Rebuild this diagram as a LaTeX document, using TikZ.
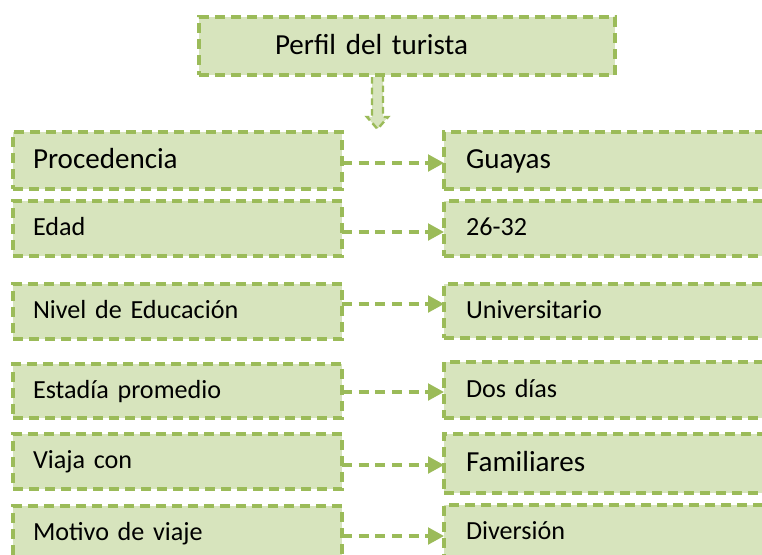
\documentclass[tikz,border=0pt]{standalone}
\usepackage{fontspec}
\setmainfont{Carlito}
\usetikzlibrary{arrows.meta,positioning,calc}
\definecolor{perfilfill}{RGB}{215,228,189}
\definecolor{perfilline}{RGB}{155,187,89}

\begin{document}
\begin{tikzpicture}[x=0.75pt, y=-0.75pt,
    cajon/.style={draw=perfilline, fill=perfilfill, line width=2.5pt,
        dash pattern=on 7.5pt off 4.5pt, anchor=north west, align=left,
        inner xsep=15pt, inner ysep=0pt, outer sep=0pt, text=black},
    grande/.style={font=\fontsize{21.8}{26}\selectfont, text height=12.5pt, text depth=0pt},
    chico/.style={font=\fontsize{19.6}{24}\selectfont, text height=11pt, text depth=0pt},
    izq/.style={cajon, text width=216.75pt},
    der/.style={cajon, inner xsep=16.5pt, text width=222pt},
    flecha/.style={draw=perfilline, line width=2.4pt, dash pattern=on 7.5pt off 5pt,
        -{Triangle[length=12pt, width=12.5pt]}},
    bloque/.style={draw=perfilline, fill=perfilfill, line width=1.8pt,
        dash pattern=on 5pt off 3pt}]
    \useasboundingbox (0,0) rectangle (762,554);
    \clip (0,0) rectangle (762,554);

    % title
    \node[cajon, grande, inner xsep=57pt, text width=198pt, minimum height=43.5pt]
        (titulo) at (199,17) {Perfil del turista};
    \coordinate (punta) at (377.5,129);
    \draw[bloque] (372,0 |- titulo.south) ++(0,2) -- (372,117) -- (367,117) -- (punta)
        -- (388,117) -- (383,117) -- (383,77);

    % left column
    \node[izq, grande, minimum height=42.75pt] (proc)   at (13,132) {Procedencia};
    \node[izq, chico,  minimum height=41.25pt] (edad)   at (13,201) {Edad};
    \node[izq, chico,  minimum height=41.25pt] (nivel)  at (13,284) {Nivel de Educación};
    \node[izq, chico,  minimum height=40.5pt]  (estad)  at (13,364) {Estadía promedio};
    \node[izq, chico,  minimum height=41.25pt] (viaja)  at (13,434) {Viaja con};
    \node[izq, chico,  minimum height=41.25pt] (motivo) at (13,506) {Motivo de viaje};

    % right column
    \node[der, grande, minimum height=42.75pt] (guay)  at (444,132) {Guayas};
    \node[der, chico,  minimum height=41.25pt] (rango) at (444,201) {26-32};
    \node[der, chico,  minimum height=40.5pt]  (univ)  at (444,284) {Universitario};
    \node[der, chico,  minimum height=42pt]    (dias)  at (444,362) {Dos días};
    \node[der, grande, minimum height=44.25pt] (fam)   at (444,434) {Familiares};
    \node[der, chico,  minimum height=41.25pt] (div)   at (444,505) {Diversión};

    \foreach \a/\b/\yy in {proc/guay/163, edad/rango/232, nivel/univ/304,
                           estad/dias/392, viaja/fam/465, motivo/div/536}
        \draw[flecha] (\a.east |- 0,\yy) -- (\b.west |- 0,\yy);
\end{tikzpicture}
\end{document}
